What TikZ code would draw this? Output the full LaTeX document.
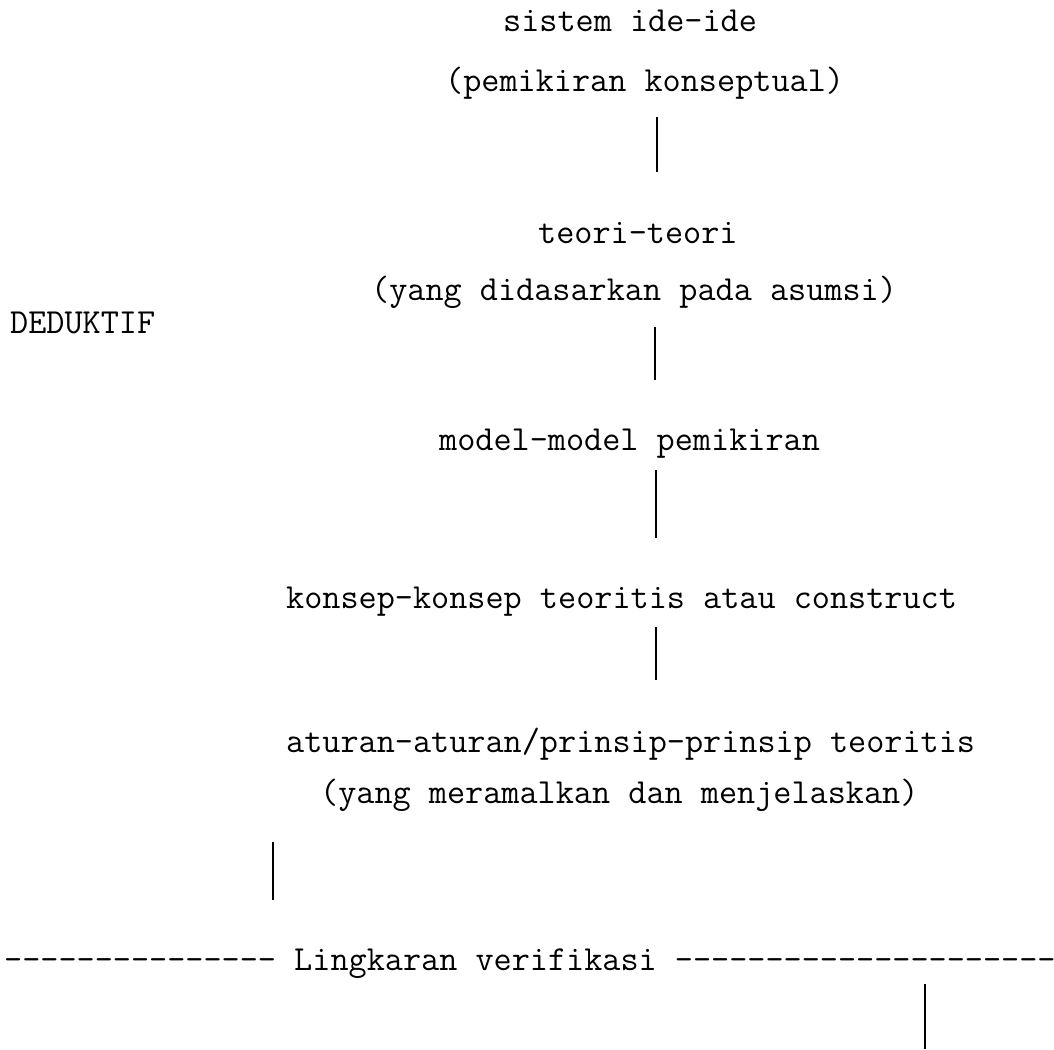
\documentclass[tikz,border=0pt]{standalone}
\usepackage{fontspec}
\begin{document}
\begin{tikzpicture}[x=1pt,y=-1pt,
  txt/.style={anchor=base west, inner sep=0pt, font=\fontsize{35.2}{40}\selectfont\ttfamily},
  conn/.style={line width=1.1pt, black}]
\useasboundingbox[fill=white] (0,0) rectangle (1054,1049);
\node[txt] (sistem) at (503,32) {sistem ide-ide};
\node[txt] (pemikiran) at (445,92) {(pemikiran konseptual)};
\node[txt] (teori) at (538,243) {teori-teori};
\node[txt] (asumsi) at (371,300) {(yang didasarkan pada asumsi)};
\node[txt] (deduktif) at (10,333) {DEDUKTIF};
\node[txt] (model) at (439,450) {model-model pemikiran};
\node[txt] (konsep) at (286,608) {konsep-konsep teoritis atau construct};
\node[txt] (aturan) at (286,752) {aturan-aturan/prinsip-prinsip teoritis};
\node[txt] (meramal) at (320,803) {(yang meramalkan dan menjelaskan)};
\node[txt] (verif) at (4,970) {--------------- Lingkaran verifikasi ---------------------};
\coordinate (a1) at (657,117); \coordinate (b1) at (657,172);
\coordinate (a2) at (655,327); \coordinate (b2) at (655,380);
\coordinate (a3) at (656,470); \coordinate (b3) at (656,538);
\coordinate (a4) at (656,627); \coordinate (b4) at (656,680);
\coordinate (a5) at (273,842); \coordinate (b5) at (273,900);
\coordinate (a6) at (925,984); \coordinate (b6) at (925,1049);
\draw[conn] (a1) -- (b1);
\draw[conn] (a2) -- (b2);
\draw[conn] (a3) -- (b3);
\draw[conn] (a4) -- (b4);
\draw[conn] (a5) -- (b5);
\draw[conn] (a6) -- (b6);
\end{tikzpicture}
\end{document}
